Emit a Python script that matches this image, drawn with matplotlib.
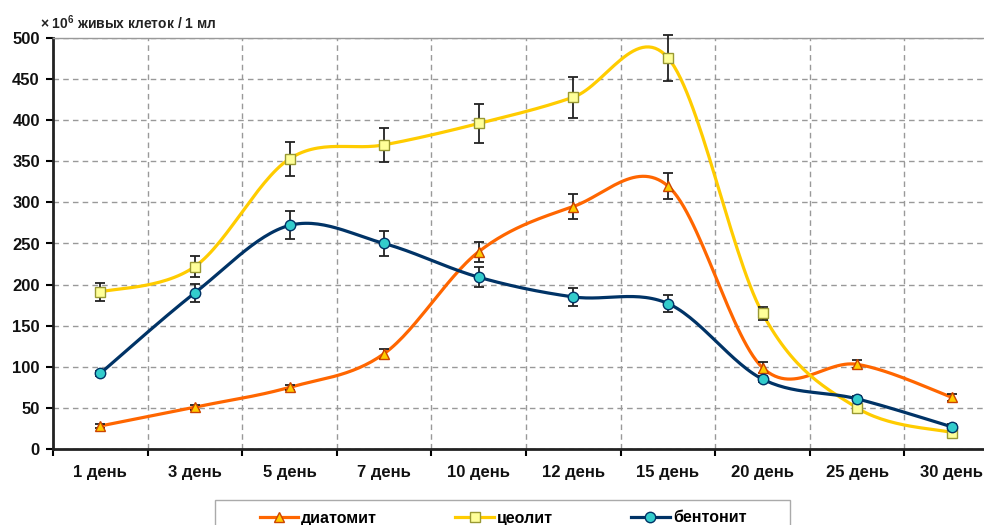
import numpy as np
import matplotlib
matplotlib.use("Agg")
import matplotlib.pyplot as plt
from matplotlib.lines import Line2D
from matplotlib.patches import Rectangle

plt.rcParams['font.family'] = ['Liberation Sans', 'DejaVu Sans']
plt.rcParams['font.weight'] = 'bold'
plt.rcParams['mathtext.fontset'] = 'custom'
plt.rcParams['mathtext.rm'] = 'Liberation Sans:bold'
plt.rcParams['mathtext.bf'] = 'Liberation Sans:bold'

# --- data -------------------------------------------------------------
days = ["1 день", "3 день", "5 день", "7 день", "10 день",
        "12 день", "15 день", "20 день", "25 день", "30 день"]

diatomit = [28, 51, 75, 116, 240, 295, 320, 99, 103, 63]
diatomit_err = [3, 3, 3, 6, 12, 15, 16, 7, 5, 4]

ceolit = [191, 222, 353, 370, 396, 428, 476, 165, 50, 20]
ceolit_err = [11, 13, 21, 21, 24, 25, 28, 8, 3, 3]

bentonit = [92, 190, 272, 250, 209, 185, 177, 85, 61, 27]
bentonit_err = [3, 11, 17, 15, 12, 11, 10, 4, 3, 3]

y_ticks = list(range(0, 501, 50))
y_title = r"× 10$^{6}$ живых клеток / 1 мл"


def smooth(x, y, n=30):
    """Catmull-Rom spline through the points (smoothed line)."""
    x = np.asarray(x, float)
    y = np.asarray(y, float)
    px = np.concatenate([[x[0]], x, [x[-1]]])
    py = np.concatenate([[y[0]], y, [y[-1]]])
    xs, ys = [], []
    t = np.linspace(0, 1, n, endpoint=False)
    for i in range(1, len(px) - 2):
        for arr, out in ((px, xs), (py, ys)):
            a0, a1, a2, a3 = arr[i - 1:i + 3]
            out.extend(0.5 * ((2 * a1) + (-a0 + a2) * t
                              + (2 * a0 - 5 * a1 + 4 * a2 - a3) * t ** 2
                              + (-a0 + 3 * a1 - 3 * a2 + a3) * t ** 3))
    xs.append(x[-1])
    ys.append(y[-1])
    return np.array(xs), np.array(ys)


fig = plt.figure(figsize=(9.84, 5.25), dpi=100)
ax = fig.add_axes([53 / 984, 76 / 525, 946 / 984, 411 / 525])

x = np.arange(len(days))

series = [
    (diatomit, diatomit_err, "диатомит", "#FF6600", "^", "#FFCC00", "#CC4400"),
    (ceolit, ceolit_err, "цеолит", "#FFCC00", "s", "#FFFF99", "#999933"),
    (bentonit, bentonit_err, "бентонит", "#003366", "o", "#33CCCC", "#003366"),
]

handles = []
for vals, errs, name, lc, mk, mfc, mec in series:
    sx, sy = smooth(x, vals)
    ax.plot(sx, sy, color=lc, lw=2.3, zorder=3, solid_capstyle='round')
    eb = ax.errorbar(x, vals, yerr=errs, fmt='none', ecolor='#222222',
                     elinewidth=1.3, capsize=3.5, capthick=1.3, zorder=4)
    for art in eb.lines[1] + eb.lines[2]:
        art.set_clip_on(False)
    ax.plot(x, vals, linestyle='none', marker=mk, markersize=7.5,
            markerfacecolor=mfc, markeredgecolor=mec, markeredgewidth=1.0,
            zorder=5, clip_on=False)
    handles.append(Line2D([0], [0], color=lc, lw=2.3, marker=mk,
                          markersize=7.5, markerfacecolor=mfc,
                          markeredgecolor=mec, markeredgewidth=1.0,
                          label=name))

# --- axes styling -----------------------------------------------------
ax.set_xlim(-0.5, len(days) - 0.5)
ax.set_ylim(0, 500)
ax.set_yticks(y_ticks)
ax.set_yticklabels([str(v) for v in y_ticks])

ax.set_xticks(np.arange(len(days) + 1) - 0.5)
ax.set_xticklabels([])
ax.set_xticks(x, minor=True)
ax.set_xticklabels(days, minor=True)

ax.tick_params(axis='x', which='major', direction='out', length=5,
               width=1.5, color='black')
ax.tick_params(axis='x', which='minor', length=0, pad=11.5, labelsize=12)
ax.tick_params(axis='y', which='major', direction='out', length=5,
               width=1.5, color='black', pad=4.5, labelsize=12)

for lbl in ax.get_xticklabels(minor=True) + ax.get_yticklabels():
    lbl.set_fontweight('bold')
    lbl.set_color('#111111')

ax.grid(True, which='major', color='#999999', linestyle=(0, (4, 3)), lw=1.0)
ax.set_axisbelow(True)

ax.spines['left'].set_linewidth(2)
ax.spines['left'].set_color('#222222')
ax.spines['bottom'].set_linewidth(2)
ax.spines['bottom'].set_color('#222222')
ax.spines['top'].set_linewidth(1)
ax.spines['top'].set_color('#999999')
ax.spines['right'].set_linewidth(1)
ax.spines['right'].set_color('#999999')

fig.text(40 / 984, 1 - 23 / 525, y_title, ha='left', va='center',
         fontsize=10, fontweight='bold', color='#222222')

# legend: frameless entries inside a hand-sized box
fig.patches.append(Rectangle((215 / 984, 1 - 530 / 525), 575 / 984, 30 / 525,
                             transform=fig.transFigure, facecolor='white',
                             edgecolor='#AAAAAA', lw=1, zorder=1))
leg = fig.legend(handles=handles, loc='center',
                 bbox_to_anchor=(503 / 984, 1 - 518 / 525), ncol=3,
                 frameon=False, handlelength=2.4, handletextpad=0.2,
                 columnspacing=4.9, borderpad=0.0,
                 prop={'weight': 'bold', 'size': 11.5})
leg.set_zorder(2)

fig.savefig("out.png", dpi=100)
